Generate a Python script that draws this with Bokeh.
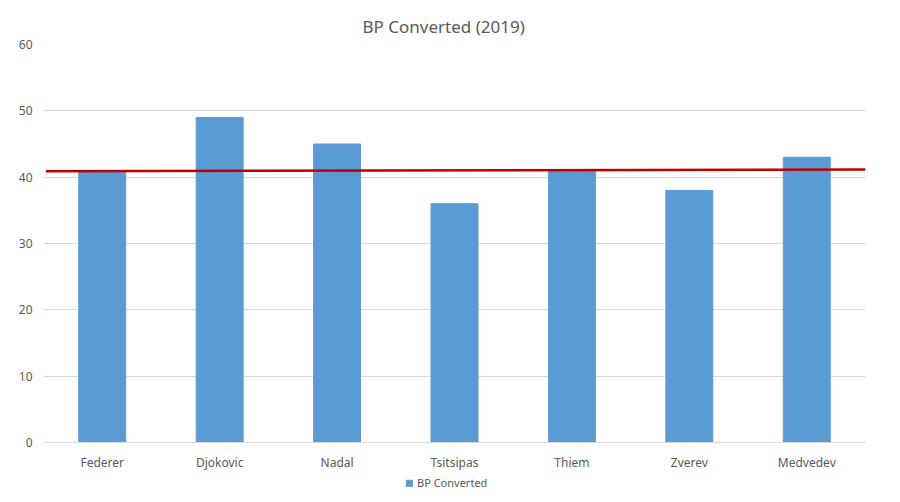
from bokeh.plotting import figure
from bokeh.models import ColumnDataSource, Legend, LegendItem, Range1d, FactorRange
from bokeh.embed import file_html
from bokeh.resources import INLINE

players = ["Federer", "Djokovic", "Nadal", "Tsitsipas", "Thiem", "Zverev", "Medvedev"]
bp_converted = [41, 49, 45, 36, 41, 38, 43]
ref_line_x = [0.02, 7.0]
ref_line_y = [40.88, 41.15]
y_ticks = [0, 10, 20, 30, 40, 50, 60]

FONT = "Noto Sans"
GRAY = "#595959"

p = figure(x_range=FactorRange(*players, range_padding=0), y_range=Range1d(-7.84, 60),
           width=892, height=494, output_backend="svg", toolbar_location=None,
           min_border_left=43, min_border_right=27, min_border_top=44, min_border_bottom=0)

src = ColumnDataSource(dict(x=players, top=bp_converted))
bars = p.vbar(x="x", top="top", width=0.4, source=src, color="#5B9BD5")

# red reference line (numeric coordinates on categorical axis)
p.line(x=ref_line_x, y=ref_line_y, line_color="#C00000", line_width=2.5)

p.title.text = "BP Converted (2019)"
p.title.align = "left"
p.title.offset = 319
p.title.vertical_align = "top"
p.title.text_font = FONT
p.title.text_font_size = "17px"
p.title.text_font_style = "normal"
p.title.text_color = GRAY
p.title.standoff = 10

p.outline_line_color = None
p.xgrid.grid_line_color = None
p.ygrid.grid_line_color = "#D9D9D9"
p.ygrid.ticker = y_ticks
p.yaxis.ticker = y_ticks

p.yaxis.axis_line_color = None
p.yaxis.major_tick_line_color = None
p.yaxis.minor_tick_line_color = None
p.yaxis.major_label_text_font = FONT
p.yaxis.major_label_text_font_size = "12px"
p.yaxis.major_label_text_color = GRAY
p.yaxis.major_label_standoff = 5

p.xaxis.fixed_location = 0
p.xaxis.axis_line_color = "#D9D9D9"
p.xaxis.major_tick_line_color = None
p.xaxis.minor_tick_line_color = None
p.xaxis.major_label_text_font = FONT
p.xaxis.major_label_text_font_size = "12px"
p.xaxis.major_label_text_color = GRAY
p.xaxis.major_label_standoff = 6

legend = Legend(items=[LegendItem(label="BP Converted", renderers=[bars])],
                orientation="horizontal", location=(362, 4),
                label_text_font=FONT, label_text_font_size="11px",
                label_text_color=GRAY, glyph_width=8, glyph_height=8,
                border_line_color=None, background_fill_alpha=0,
                padding=0, margin=0, label_standoff=4, label_height=12)
p.add_layout(legend, "center")

open("out.html", "w").write(file_html(p, INLINE))
